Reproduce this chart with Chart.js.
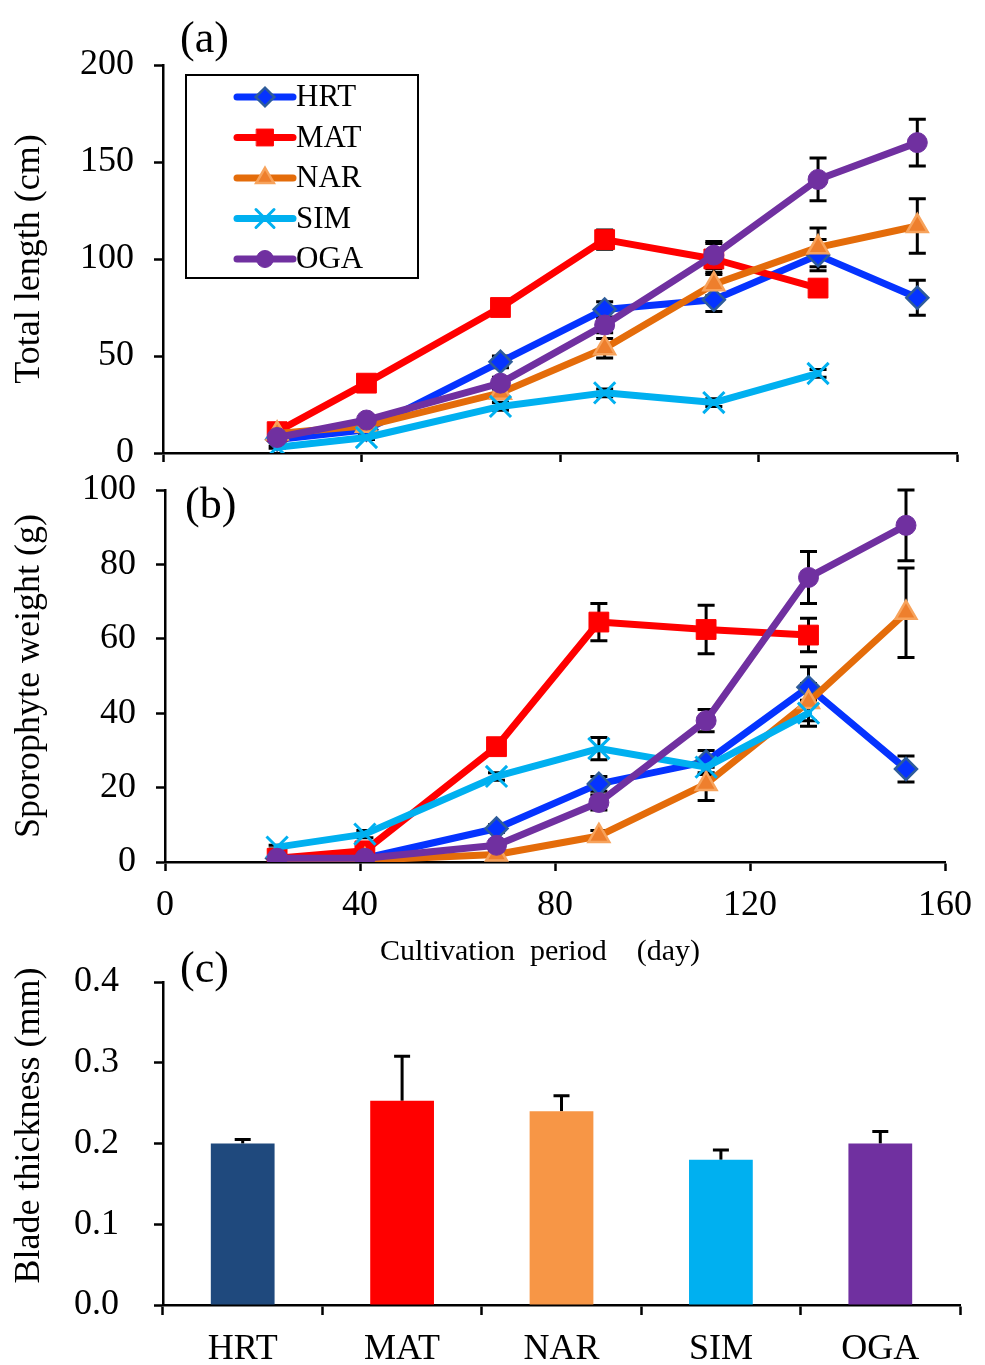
<!DOCTYPE html>
<html>
<head>
<meta charset="utf-8">
<script src="https://cdn.jsdelivr.net/npm/chart.js@4.4.1/dist/chart.umd.min.js"></script>
<style>
  html, body { margin: 0; padding: 0; background: #fff; }
  body { position: relative; width: 985px; height: 1365px; overflow: hidden; }
  canvas { position: absolute; left: 0; }
  #lengthChart { top: 0; }
  #weightChart { top: 448px; }
  #thicknessChart { top: 925px; }
</style>
</head>
<body>
<canvas id="lengthChart" width="985" height="495"></canvas>
<canvas id="weightChart" width="985" height="526"></canvas>
<canvas id="thicknessChart" width="985" height="440"></canvas>
<script>
const strains = ['HRT', 'MAT', 'NAR', 'SIM', 'OGA']
const days = [23, 41, 68, 89, 111, 132, 152]
const dayTicks = [0, 40, 80, 120, 160]

// (a) total length (cm), mean and SD
const lengthTicks = [0, 50, 100, 150, 200]
const lengthHRT = [7, 12, 47, 74, 79, 102, 80]
const lengthMAT = [11, 36, 75, 110, 100, 85, null]
const lengthNAR = [10, 14, 31, 54, 87, 106, 117]
const lengthSIM = [3, 8, 24, 31, 26, 41, null]
const lengthOGA = [8, 17, 36, 66, 102, 141, 160]
const lengthErrHRT = [1, 2, 3, 4, 6, 8, 9]
const lengthErrMAT = [1, 2, 2, 5, 8, 3, null]
const lengthErrNAR = [1, 2, 3, 5, 6, 10, 14]
const lengthErrSIM = [0.5, 1, 2, 2, 2, 2, null]
const lengthErrOGA = [1, 2, 3, 4, 7, 11, 12]

// (b) sporophyte weight (g), mean and SD
const weightTicks = [0, 20, 40, 60, 80, 100]
const weightHRT = [1, 1, 9, 21, 27, 47, 25]
const weightMAT = [1, 3, 31, 64.5, 62.5, 61, null]
const weightNAR = [0.5, 0.5, 2, 7, 21, 43, 67]
const weightSIM = [4, 7.5, 23, 30.5, 25.5, 40, null]
const weightOGA = [1, 1, 4.5, 16, 38, 76.5, 90.5]
const weightErrHRT = [0.3, 0.3, 1, 2, 3, 5.5, 3.5]
const weightErrMAT = [0.5, 1, 2, 5, 6.5, 4.5, null]
const weightErrNAR = [0.3, 0.3, 1, 1.5, 4.5, 5, 12]
const weightErrSIM = [0.5, 1, 1, 3, 2, 3.5, null]
const weightErrOGA = [0.3, 0.3, 1, 2, 3, 7, 9.5]

// (c) blade thickness (mm), mean and SD
const thicknessTicks = [0, 0.1, 0.2, 0.3, 0.4]
const thickness = [0.2, 0.253, 0.24, 0.18, 0.2]
const thicknessErr = [0.005, 0.055, 0.019, 0.012, 0.015]

const serif = "'Liberation Serif', 'Times New Roman', serif"
Chart.defaults.font.family = serif
Chart.defaults.color = '#000'

const seriesStyle = {
  HRT: { line: '#0533FF', fill: '#0533FF', edge: '#2E5C9A', point: 'rectRot', radius: 11, edgeWidth: 2.5 },
  MAT: { line: '#FF0000', fill: '#FF0000', edge: '#FF0000', point: 'rect', radius: 14, edgeWidth: 1 },
  NAR: { line: '#E46C0A', fill: '#EE7F2D', edge: '#F7A35C', point: 'triangle', radius: 12, edgeWidth: 2.5 },
  SIM: { line: '#00B0F0', fill: '#00B0F0', edge: '#00B0F0', point: 'crossRot', radius: 15, edgeWidth: 3 },
  OGA: { line: '#7030A0', fill: '#7030A0', edge: '#7030A0', point: 'circle', radius: 10, edgeWidth: 1 }
}
const barColors = ['#1F497D', '#FF0000', '#F79646', '#00B0F0', '#7030A0']

// black error bars under the marks
const errorBars = {
  id: 'errorBars',
  beforeDatasetsDraw(chart, args, opts) {
    const ctx = chart.ctx
    const yScale = chart.scales.y
    ctx.save()
    ctx.strokeStyle = '#000'
    ctx.lineWidth = opts.width || 3
    chart.data.datasets.forEach((ds, i) => {
      if (!ds.errors) return
      const meta = chart.getDatasetMeta(i)
      meta.data.forEach((el, j) => {
        const d = ds.data[j]
        const v = d !== null && typeof d === 'object' ? d.y : d
        const e = ds.errors[j]
        if (v == null || e == null) return
        const px = el.x
        const top = yScale.getPixelForValue(v + e)
        const bottom = opts.oneSided ? yScale.getPixelForValue(v) : yScale.getPixelForValue(v - e)
        const cap = (opts.cap || 17) / 2
        ctx.beginPath()
        ctx.moveTo(px, top)
        ctx.lineTo(px, bottom)
        ctx.moveTo(px - cap, top)
        ctx.lineTo(px + cap, top)
        if (!opts.oneSided) {
          ctx.moveTo(px - cap, bottom)
          ctx.lineTo(px + cap, bottom)
        }
        ctx.stroke()
      })
    })
    ctx.restore()
  }
}

const panelLabel = {
  id: 'panelLabel',
  afterDraw(chart, args, opts) {
    if (!opts.text) return
    const { ctx, chartArea } = chart
    ctx.save()
    ctx.font = '44px ' + serif
    ctx.fillStyle = '#000'
    ctx.textBaseline = 'middle'
    ctx.fillText(opts.text, chartArea.left + opts.dx, chartArea.top + opts.dy)
    ctx.restore()
  }
}

const boxLegend = {
  id: 'boxLegend',
  afterDraw(chart, args, opts) {
    if (!opts.show) return
    const { ctx, chartArea } = chart
    const left = chartArea.left + 23
    const top = chartArea.top + 10
    ctx.save()
    ctx.fillStyle = '#fff'
    ctx.fillRect(left, top, 232, 203)
    ctx.strokeStyle = '#000'
    ctx.lineWidth = 2
    ctx.strokeRect(left, top, 232, 203)
    chart.data.datasets.forEach((ds, i) => {
      const y = top + 22 + i * 40.5
      ctx.strokeStyle = ds.borderColor
      ctx.lineWidth = 7
      ctx.lineCap = 'round'
      ctx.beginPath()
      ctx.moveTo(left + 51, y)
      ctx.lineTo(left + 107, y)
      ctx.stroke()
      ctx.fillStyle = ds.pointBackgroundColor
      ctx.strokeStyle = ds.pointBorderColor
      ctx.lineWidth = ds.pointBorderWidth
      if (Chart.helpers && Chart.helpers.drawPoint) {
        Chart.helpers.drawPoint(ctx, {
          pointStyle: ds.pointStyle,
          radius: ds.pointRadius * 0.85,
          rotation: 0,
          borderWidth: ds.pointBorderWidth
        }, left + 79, y)
      }
      ctx.fillStyle = '#000'
      ctx.font = '31px ' + serif
      ctx.textBaseline = 'middle'
      ctx.textAlign = 'left'
      ctx.fillText(ds.label, left + 110, y + 1)
    })
    ctx.restore()
  }
}

function lineDatasets(values, errors) {
  return strains.map((name, i) => {
    const s = seriesStyle[name]
    return {
      label: name,
      data: days.map((d, j) => ({ x: d, y: values[i][j] })),
      errors: errors[i],
      borderColor: s.line,
      borderWidth: 7,
      borderCapStyle: 'round',
      borderJoinStyle: 'round',
      pointStyle: s.point,
      pointRadius: s.radius,
      pointBackgroundColor: s.fill,
      pointBorderColor: s.edge,
      pointBorderWidth: s.edgeWidth,
      tension: 0,
      order: strains.length - i
    }
  })
}

function setTicks(values) {
  return scale => { scale.ticks = values.map(v => ({ value: v })) }
}

function axisBase() {
  return {
    border: { display: true, color: '#000', width: 2.5 },
    grid: { drawOnChartArea: false, drawTicks: true, tickLength: 9, tickWidth: 2.5, tickColor: '#000' }
  }
}

function createLineChart(id, cfg) {
  return new Chart(document.getElementById(id), {
    type: 'line',
    data: { datasets: lineDatasets(cfg.values, cfg.errors) },
    options: {
      responsive: false,
      animation: false,
      layout: { padding: cfg.padding },
      plugins: {
        legend: { display: false },
        tooltip: { enabled: false },
        errorBars: { cap: 17, width: 3 },
        panelLabel: cfg.label,
        boxLegend: { show: cfg.legend }
      },
      scales: {
        x: {
          ...axisBase(),
          type: 'linear',
          min: 0,
          max: 160,
          afterBuildTicks: setTicks(dayTicks),
          ticks: { display: cfg.showDays, font: { size: 36 }, padding: 13 },
          title: {
            display: cfg.showDays,
            text: 'Cultivation  period\u3000(day)\u3000',
            font: { size: 30 },
            padding: { top: 0, bottom: 4 }
          },
          afterFit: s => { s.height = cfg.xHeight }
        },
        y: {
          ...axisBase(),
          min: cfg.ticks[0],
          max: cfg.ticks[cfg.ticks.length - 1],
          afterBuildTicks: setTicks(cfg.ticks),
          ticks: { font: { size: 36 }, padding: 20 },
          title: { display: true, text: cfg.yTitle, font: { size: 36 }, padding: { top: 8, bottom: 0 } },
          afterFit: s => { s.width = cfg.yWidth }
        }
      }
    },
    plugins: [errorBars, panelLabel, boxLegend]
  })
}

createLineChart('lengthChart', {
  values: [lengthHRT, lengthMAT, lengthNAR, lengthSIM, lengthOGA],
  errors: [lengthErrHRT, lengthErrMAT, lengthErrNAR, lengthErrSIM, lengthErrOGA],
  ticks: lengthTicks,
  yTitle: 'Total length (cm)',
  padding: { top: 65, right: 28, left: 0, bottom: 0 },
  yWidth: 163,
  xHeight: 42,
  showDays: false,
  legend: true,
  label: { text: '(a)', dx: 17, dy: -25 }
})

createLineChart('weightChart', {
  values: [weightHRT, weightMAT, weightNAR, weightSIM, weightOGA],
  errors: [weightErrHRT, weightErrMAT, weightErrNAR, weightErrSIM, weightErrOGA],
  ticks: weightTicks,
  yTitle: 'Sporophyte weight (g)',
  padding: { top: 42, right: 30, left: 0, bottom: 0 },
  yWidth: 165,
  xHeight: 112,
  showDays: true,
  legend: false,
  label: { text: '(b)', dx: 20, dy: 16 }
})

new Chart(document.getElementById('thicknessChart'), {
  type: 'bar',
  data: {
    labels: strains,
    datasets: [{
      data: thickness,
      errors: thicknessErr,
      backgroundColor: barColors,
      barPercentage: 0.4,
      categoryPercentage: 1
    }]
  },
  options: {
    responsive: false,
    animation: false,
    layout: { padding: { top: 57, right: 25, left: 0, bottom: 0 } },
    plugins: {
      legend: { display: false },
      tooltip: { enabled: false },
      errorBars: { cap: 16, width: 3, oneSided: true },
      panelLabel: { text: '(c)', dx: 17, dy: -12 }
    },
    scales: {
      x: {
        ...axisBase(),
        grid: { offset: true, drawOnChartArea: false, tickLength: 10, tickWidth: 2.5, tickColor: '#000' },
        ticks: { font: { size: 36 }, padding: 13 },
        afterFit: s => { s.height = 60 }
      },
      y: {
        ...axisBase(),
        min: 0,
        max: 0.4,
        afterBuildTicks: setTicks(thicknessTicks),
        ticks: { font: { size: 36 }, padding: 35, callback: v => Number(v).toFixed(1) },
        title: { display: true, text: '\u3000Blade thickness (mm)', font: { size: 36 }, padding: { top: 8, bottom: 0 } },
        afterFit: s => { s.width = 163 }
      }
    }
  },
  plugins: [errorBars, panelLabel]
})
</script>
</body>
</html>
